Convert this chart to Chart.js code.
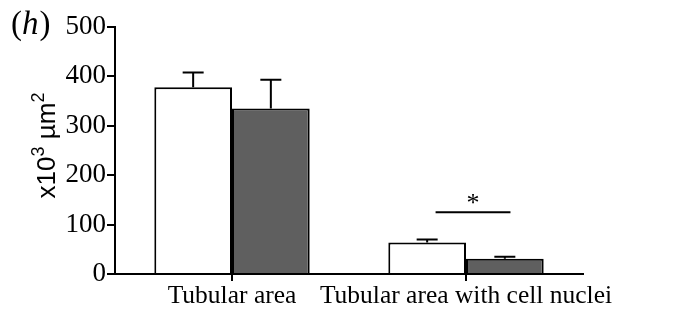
<!DOCTYPE html>
<html>
<head>
<meta charset="utf-8">
<script src="https://cdn.jsdelivr.net/npm/chart.js@4"></script>
<style>
  html, body { margin: 0; padding: 0; background: #fff; }
  #wrap { width: 676px; height: 326px; }
</style>
</head>
<body>
<div id="wrap"><canvas id="c" width="676" height="326"></canvas></div>
<script>
// ---- data ----
const categories = ["Tubular area", "Tubular area with cell nuclei"];
const seriesNames = ["Control", "Treated"];
const whiteValues = [378, 64];
const whiteErrors = [30, 6];
const darkValues = [335, 31];
const darkErrors = [58, 4];
const yTicks = [0, 100, 200, 300, 400, 500];
const panelLabel = "h";
// y-axis title parts: [text, isSuperscript]
const yTitleParts = [["x10", false], ["3", true], [" \u00B5m", false], ["2", true]];
const significance = { category: 1, value: 125, from: -0.13, to: 0.19, mark: "*" };

const errorBarPlugin = {
  id: 'errorBars',
  afterDatasetsDraw(chart) {
    const ctx = chart.ctx;
    const y = chart.scales.y;
    const errs = [whiteErrors, darkErrors];
    ctx.save();
    ctx.strokeStyle = '#000';
    ctx.lineWidth = 2;
    chart.data.datasets.forEach((ds, di) => {
      const meta = chart.getDatasetMeta(di);
      meta.data.forEach((bar, i) => {
        const top = y.getPixelForValue(ds.data[i]);
        const e = y.getPixelForValue(ds.data[i] + errs[di][i]);
        ctx.beginPath();
        ctx.moveTo(bar.x, top);
        ctx.lineTo(bar.x, e);
        ctx.moveTo(bar.x - 10.5, e);
        ctx.lineTo(bar.x + 10.5, e);
        ctx.stroke();
      });
    });
    // significance
    const x = chart.scales.x;
    const x1 = x.getPixelForValue(significance.category + significance.from);
    const x2 = x.getPixelForValue(significance.category + significance.to);
    const sy = y.getPixelForValue(significance.value);
    ctx.beginPath();
    ctx.moveTo(x1, sy);
    ctx.lineTo(x2, sy);
    ctx.stroke();
    ctx.fillStyle = '#000';
    ctx.font = '26px "Liberation Serif"';
    ctx.textAlign = 'center';
    ctx.textBaseline = 'alphabetic';
    ctx.fillText(significance.mark, (x1 + x2) / 2, sy - 1);
    // panel label
    ctx.textAlign = 'left';
    ctx.font = '33px "Liberation Serif"';
    let px = 11, py = 34;
    ctx.fillText("(", px, py);
    px += ctx.measureText("(").width;
    ctx.font = 'italic 33px "Liberation Serif"';
    ctx.fillText(panelLabel, px, py);
    px += ctx.measureText(panelLabel).width + 1;
    ctx.font = '33px "Liberation Serif"';
    ctx.fillText(")", px, py);
    // y title (rotated, with superscripts)
    const mainFont = '26px "Liberation Sans"';
    const supFont = '18px "Liberation Sans"';
    let total = 0;
    yTitleParts.forEach(([t, sup]) => { ctx.font = sup ? supFont : mainFont; total += ctx.measureText(t).width; });
    const cy = (chart.chartArea.top + chart.chartArea.bottom) / 2 - 5;
    ctx.translate(55, cy);
    ctx.rotate(-Math.PI / 2);
    let tx = -total / 2;
    yTitleParts.forEach(([t, sup]) => {
      ctx.font = sup ? supFont : mainFont;
      ctx.fillText(t, tx, sup ? -11 : 0);
      tx += ctx.measureText(t).width;
    });
    ctx.restore();
  }
};

new Chart(document.getElementById('c'), {
  type: 'bar',
  data: {
    labels: categories,
    datasets: [
      { label: seriesNames[0], data: whiteValues, backgroundColor: '#ffffff', borderColor: '#000', borderWidth: 2, borderSkipped: 'bottom' },
      { label: seriesNames[1], data: darkValues, backgroundColor: '#5f5f5f', borderColor: '#000', borderWidth: 2, borderSkipped: 'bottom' }
    ]
  },
  options: {
    responsive: false,
    animation: false,
    devicePixelRatio: 1,
    layout: { padding: { left: 0, right: 93, top: 27, bottom: 0 } },
    datasets: { bar: { categoryPercentage: 0.664, barPercentage: 1.0 } },
    plugins: { legend: { display: false }, tooltip: { enabled: false } },
    scales: {
      x: {
        afterFit(s) { s.height = 52; },
        grid: { drawOnChartArea: false, drawTicks: true, tickLength: 7, color: '#000', lineWidth: 2, offset: false },
        border: { display: true, color: '#000', width: 2 },
        ticks: { color: '#000', font: { family: 'Liberation Serif', size: 25.5 }, padding: 0, maxRotation: 0, autoSkip: false }
      },
      y: {
        min: 0, max: 500,
        afterFit(s) { s.width = 115; },
        afterBuildTicks(s) { s.ticks = yTicks.map(v => ({ value: v })); },
        grid: { drawOnChartArea: false, drawTicks: true, tickLength: 8, color: '#000', lineWidth: 2 },
        border: { display: true, color: '#000', width: 2 },
        ticks: { color: '#000', font: { family: 'Liberation Serif', size: 27 }, padding: 1 }
      }
    }
  },
  plugins: [errorBarPlugin]
});
</script>
</body>
</html>
